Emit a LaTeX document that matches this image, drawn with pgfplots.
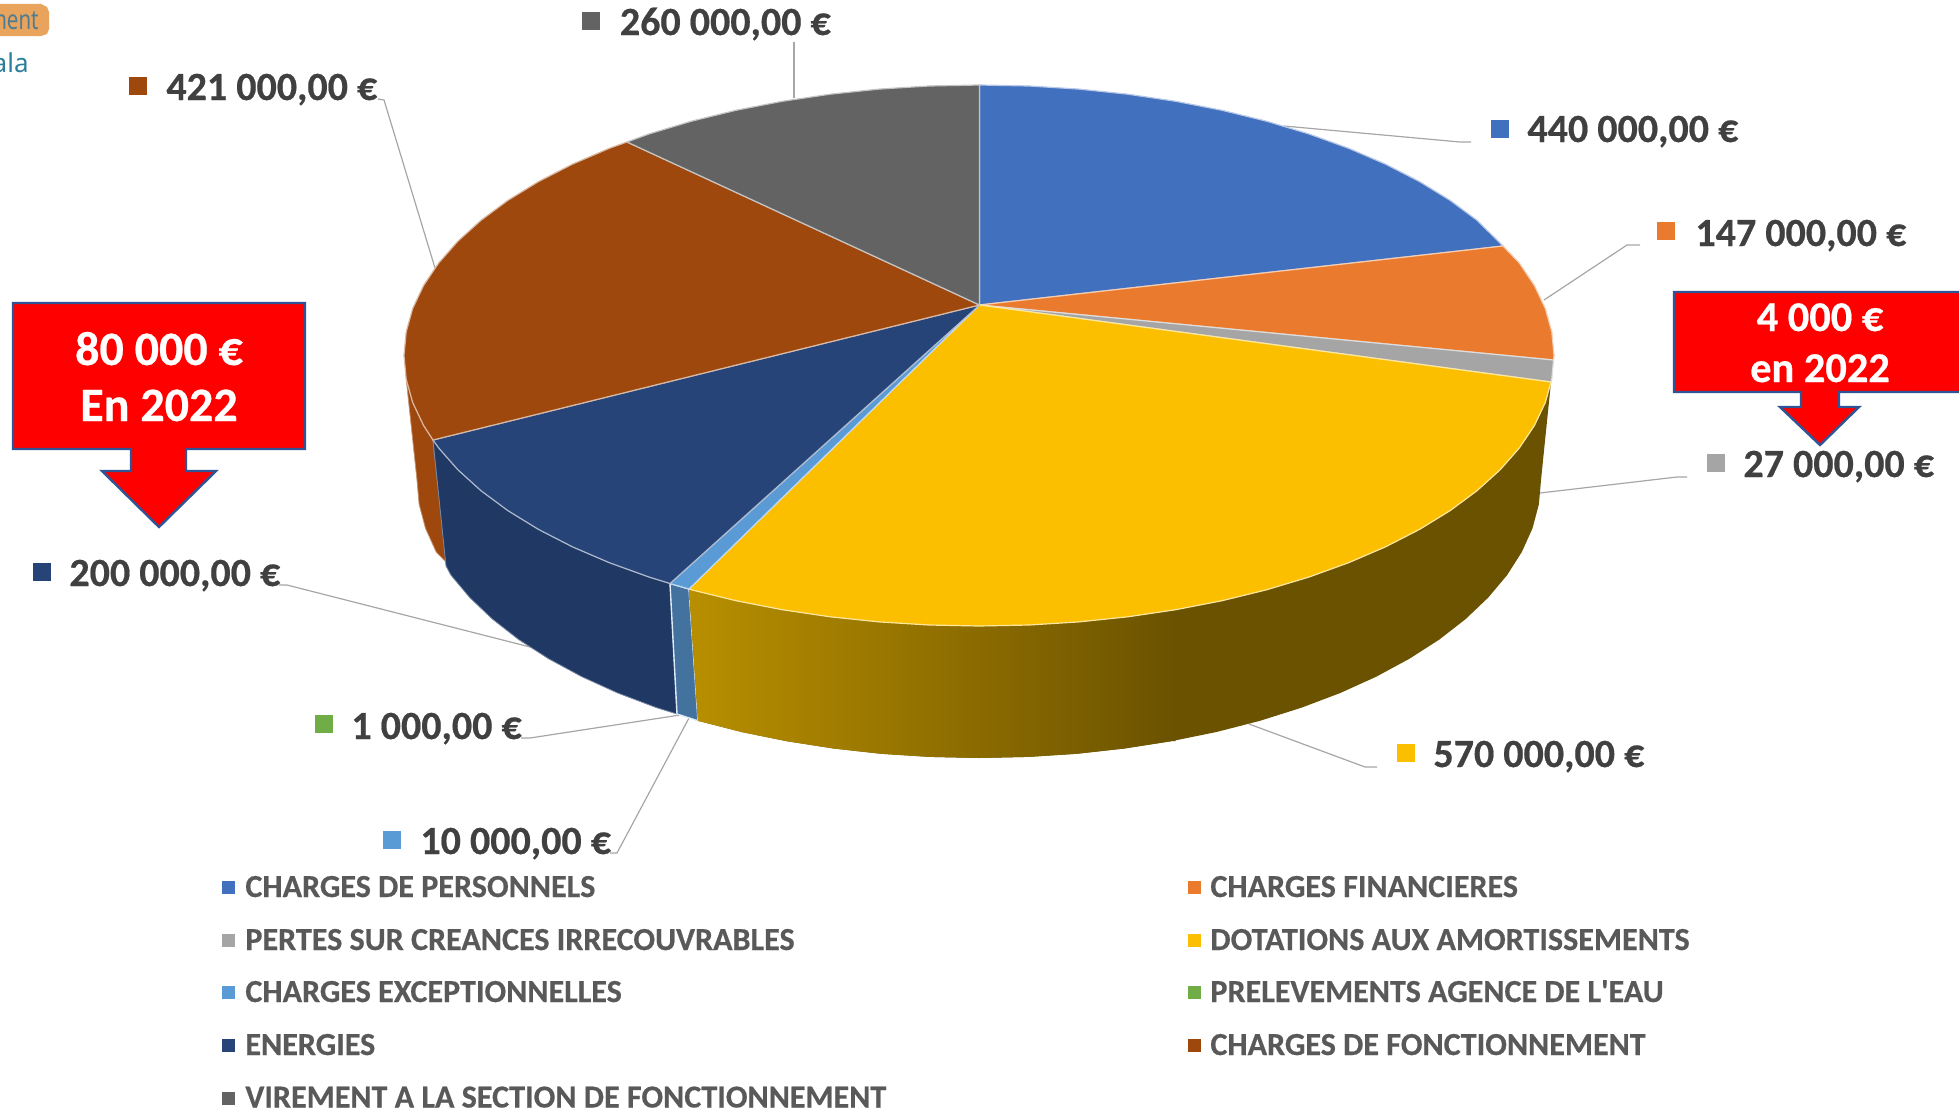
\documentclass[border=0pt]{standalone}
\usepackage{fontspec}
\usepackage{graphicx}
\setmainfont{Carlito}[BoldFeatures={FakeBold=0.5}]
\newfontfamily\webfont{Noto Sans}
\usepackage{pgfplots}
\pgfplotsset{compat=1.18}
\definecolor{cBlue}{HTML}{4170BF}
\definecolor{cOrange}{HTML}{EA7B2E}
\definecolor{cGray}{HTML}{A5A5A5}
\definecolor{cYellow}{HTML}{FCBF00}
\definecolor{cLight}{HTML}{5B9BD5}
\definecolor{cGreen}{HTML}{70AD47}
\definecolor{cNavy}{HTML}{264478}
\definecolor{cBrown}{HTML}{9E480E}
\definecolor{cDark}{HTML}{636363}
\definecolor{cNavyS}{HTML}{1F3864}
\definecolor{cLightS}{HTML}{44729F}
\definecolor{cYelA}{HTML}{B88F00}
\definecolor{cYelB}{HTML}{6B5200}
\definecolor{cLead}{HTML}{A6A6A6}
\definecolor{cArrow}{HTML}{2F5597}
\definecolor{cBadge}{HTML}{E8A35C}
\definecolor{cBadgeT}{HTML}{4F7C90}
\definecolor{cWebT}{HTML}{2A7F9E}
\newcommand\valfont{\fontsize{20bp}{24bp}\selectfont\bfseries}
\newcommand\legfont{\fontsize{16.05bp}{19bp}\selectfont\bfseries}
\tikzset{
  val/.style={font=\valfont,text=black!75,anchor=base west,inner sep=0pt},
  leg/.style={font=\legfont,text=black!65,anchor=base west,inner sep=0pt},
  lead/.style={draw=cLead,line width=0.6bp},
  sl/.style={fill=#1,draw=#1!38!white,line width=0.6bp,line join=round},
}
\newcommand\swatch[3]{\addplot[only marks,mark=square*,mark size=4.25bp,color=#1,mark options={fill=#1,draw=#1,line width=0pt}] coordinates {(#2,#3)};}
\newcommand\legsw[3]{\addplot[only marks,mark=square*,mark size=3bp,color=#1,mark options={fill=#1,draw=#1,line width=0pt}] coordinates {(#2,#3)};}
\begin{document}
\begin{tikzpicture}
\path[use as bounding box,clip] (0,0) rectangle (979.5bp,555.5bp);
\begin{axis}[
  at={(0,0)},anchor=south west,
  scale only axis,width=979.5bp,height=555.5bp,
  xmin=0,xmax=1959,ymin=0,ymax=1111,y dir=reverse,
  hide axis,clip=false]

% page fragment, top left
\addplot[fill=cBadge,draw=none] coordinates {(-10,4)(41,4)(47,7)(49,12)(49,29)(47,34)(41,36)(-10,36)} -- cycle;
\node[font=\webfont\fontsize{13.5bp}{15bp}\selectfont,text=cBadgeT,anchor=base east,inner sep=0pt] at (axis cs:39,29) {\scalebox{0.76}[1]{ment}};
\node[font=\webfont\fontsize{13bp}{15bp}\selectfont,text=cWebT,anchor=base east,inner sep=0pt] at (axis cs:29,72) {ala};

% leaders
\addplot[lead] coordinates {(1284,126)(1460,142)(1471,142)};
\addplot[lead] coordinates {(1544,300)(1627,245)(1640,245)};
\addplot[lead] coordinates {(1540,493)(1677,477)(1687,477)};
\addplot[lead] coordinates {(1249,724)(1365,767)(1377,767)};
\addplot[lead] coordinates {(689,718)(617,853)(610,853)};
\addplot[lead] coordinates {(680,715)(530,738)(521,738)};
\addplot[lead] coordinates {(534,648)(287,585)(279,585)};
\addplot[lead] coordinates {(435,268)(384,100)(378,99)};
\addplot[lead] coordinates {(794,98)(794,42)};

% side walls
\addplot[fill=cBrown,draw=cBrown!60!white,line width=0.4bp] coordinates {(406.2,379.1)(412.7,402.5)(423.6,425.5)(433,440)(446,562)(436.2,552)(425.5,528.3)(419.1,504.2)(417,480)} -- cycle;
\addplot[fill=cNavyS,draw=cNavyS!60!white,line width=0.4bp] coordinates {(433,440)(438.7,448)(457.9,469.8)(481,490.7)(508,510.7)(538.5,529.4)(572.4,546.8)(609.4,562.7)(649.2,577.1)(670,583.5)(677,714)(656.6,707.7)(617.7,693)(581.6,676.6)(548.5,658.7)(518.6,639.5)(492.3,619)(469.7,597.5)(450.9,575.1)(446,566)} -- cycle;
\addplot[fill=cLightS,draw=white!80!cLight,line width=0.7bp] coordinates {(670,583.5)(689,589)(698,720.8)(677,714)} -- cycle;
\addplot[fill=cYelB,draw=none] coordinates {(689,589)(691.5,589.8)(736,600.7)(782.3,609.7)(830.2,616.8)(879.2,621.9)(928.9,625)(979,626)(1029.1,625)(1078.8,621.9)(1127.8,616.8)(1175.7,609.7)(1222,600.7)(1266.5,589.8)(1308.8,577.1)(1348.6,562.7)(1385.6,546.8)(1419.5,529.4)(1450,510.7)(1477,490.7)(1500.1,469.8)(1519.3,448)(1534.4,425.5)(1545.3,402.5)(1551,382)(1541,480)(1538.9,504.2)(1532.5,528.3)(1521.8,552)(1507.1,575.1)(1488.3,597.5)(1465.7,619)(1439.4,639.5)(1409.5,658.7)(1376.4,676.6)(1340.3,693)(1301.4,707.7)(1260,720.8)(1216.5,732)(1171.2,741.2)(1124.4,748.5)(1076.6,753.8)(1028,756.9)(979,758)(930,756.9)(881.4,753.8)(833.6,748.5)(786.8,741.2)(741.5,732)(698,720.8)} -- cycle;
\addplot[left color=cYelA,right color=cYelB,draw=none] coordinates {(689,589)(691.5,589.8)(736,600.7)(782.3,609.7)(830.2,616.8)(879.2,621.9)(928.9,625)(979,626)(1029.1,625)(1078.8,621.9)(1127.8,616.8)(1175.7,609.7)(1175.7,741)(1171.2,741.2)(1124.4,748.5)(1076.6,753.8)(1028,756.9)(979,758)(930,756.9)(881.4,753.8)(833.6,748.5)(786.8,741.2)(741.5,732)(698,720.8)} -- cycle;

% top faces
\addplot[sl=cBlue] coordinates {(979.5,305)(979.5,85)(1029.1,86)(1078.8,89.1)(1127.8,94.2)(1175.7,101.3)(1222,110.3)(1266.5,121.2)(1308.8,133.9)(1348.6,148.3)(1385.6,164.2)(1419.5,181.6)(1450,200.3)(1477,220.3)(1503,246)} -- cycle;
\addplot[sl=cOrange] coordinates {(979.5,305)(1503,246)(1519.3,263)(1534.4,285.5)(1545.3,308.5)(1551.8,331.9)(1554,355.5)(1553.5,360)} -- cycle;
\addplot[sl=cGray] coordinates {(979.5,305)(1553.5,360)(1551.8,379.1)(1551,382)} -- cycle;
\addplot[sl=cYellow] coordinates {(979.5,305)(1551,382)(1545.3,402.5)(1534.4,425.5)(1519.3,448)(1500.1,469.8)(1477,490.7)(1450,510.7)(1419.5,529.4)(1385.6,546.8)(1348.6,562.7)(1308.8,577.1)(1266.5,589.8)(1222,600.7)(1175.7,609.7)(1127.8,616.8)(1078.8,621.9)(1029.1,625)(979,626)(928.9,625)(879.2,621.9)(830.2,616.8)(782.3,609.7)(736,600.7)(691.5,589.8)(689,589)} -- cycle;
\addplot[sl=cLight] coordinates {(979.5,305)(689,589)(670,583.5)} -- cycle;
\addplot[sl=cNavy] coordinates {(979.5,305)(670,583.5)(649.2,577.1)(609.4,562.7)(572.4,546.8)(538.5,529.4)(508,510.7)(481,490.7)(457.9,469.8)(438.7,448)(433,440)} -- cycle;
\addplot[sl=cBrown] coordinates {(979.5,305)(433,440)(423.6,425.5)(412.7,402.5)(406.2,379.1)(404,355.5)(406.2,331.9)(412.7,308.5)(423.6,285.5)(438.7,263)(457.9,241.2)(481,220.3)(508,200.3)(538.5,181.6)(572.4,164.2)(609.4,148.3)(627,142)} -- cycle;
\addplot[sl=cDark] coordinates {(979.5,305)(627,142)(649.2,133.9)(691.5,121.2)(736,110.3)(782.3,101.3)(830.2,94.2)(879.2,89.1)(928.9,86)(979.5,85)} -- cycle;

% value labels
\swatch{cBlue}{1499.5}{128.5}
\node[val] at (axis cs:1527,142) {440 000,00 €};
\swatch{cOrange}{1666}{231}
\node[val] at (axis cs:1695,246) {147 000,00 €};
\swatch{cGray}{1715.5}{463}
\node[val] at (axis cs:1743,477) {27 000,00 €};
\swatch{cYellow}{1406}{752.5}
\node[val] at (axis cs:1433,767) {570 000,00 €};
\swatch{cLight}{392}{840}
\node[val] at (axis cs:420,854) {10 000,00 €};
\swatch{cGreen}{323.5}{724}
\node[val] at (axis cs:351,739) {1 000,00 €};
\swatch{cNavy}{41.5}{572}
\node[val] at (axis cs:69,586) {200 000,00 €};
\swatch{cBrown}{137.5}{86}
\node[val] at (axis cs:166,100) {421 000,00 €};
\swatch{cDark}{591}{21}
\node[val] at (axis cs:619.5,35) {260 000,00 €};

% callouts
\addplot[fill=red,draw=cArrow,line width=1.2bp,line join=miter] coordinates {(13,303)(305,303)(305,449)(186,449)(186,471)(216,471)(159,527)(102,471)(131,471)(131,449)(13,449)} -- cycle;
\node[font=\fontsize{24bp}{28bp}\selectfont\bfseries,text=white,inner sep=0pt,anchor=base] at (axis cs:159,365) {80 000 €};
\node[font=\fontsize{24bp}{28bp}\selectfont\bfseries,text=white,inner sep=0pt,anchor=base] at (axis cs:159,421) {En 2022};
\addplot[fill=red,draw=cArrow,line width=1.2bp,line join=miter] coordinates {(1674,292)(1975,292)(1975,392)(1839,392)(1839,407)(1859,407)(1820,445)(1780,407)(1801,407)(1801,392)(1674,392)} -- cycle;
\node[font=\fontsize{21.2bp}{25bp}\selectfont\bfseries,text=white,inner sep=0pt,anchor=base] at (axis cs:1820,331) {4 000 €};
\node[font=\fontsize{21.2bp}{25bp}\selectfont\bfseries,text=white,inner sep=0pt,anchor=base] at (axis cs:1820,382) {en 2022};

% legend
\legsw{cBlue}{228.5}{887}
\node[leg] at (axis cs:245,897) {CHARGES DE PERSONNELS};
\legsw{cGray}{228.5}{940}
\node[leg] at (axis cs:245,950) {PERTES SUR CREANCES IRRECOUVRABLES};
\legsw{cLight}{228.5}{992}
\node[leg] at (axis cs:245,1002) {CHARGES EXCEPTIONNELLES};
\legsw{cNavy}{228.5}{1045}
\node[leg] at (axis cs:245,1055) {ENERGIES};
\legsw{cDark}{228.5}{1098}
\node[leg] at (axis cs:245,1107.5) {VIREMENT A LA SECTION DE FONCTIONNEMENT};
\legsw{cOrange}{1194}{887}
\node[leg] at (axis cs:1210,897) {CHARGES FINANCIERES};
\legsw{cYellow}{1194}{940}
\node[leg] at (axis cs:1210,950) {DOTATIONS AUX AMORTISSEMENTS};
\legsw{cGreen}{1194}{992}
\node[leg] at (axis cs:1210,1002) {PRELEVEMENTS AGENCE DE L\textquotesingle EAU};
\legsw{cBrown}{1194}{1045}
\node[leg] at (axis cs:1210,1055) {CHARGES DE FONCTIONNEMENT};
\end{axis}
\end{tikzpicture}
\end{document}
